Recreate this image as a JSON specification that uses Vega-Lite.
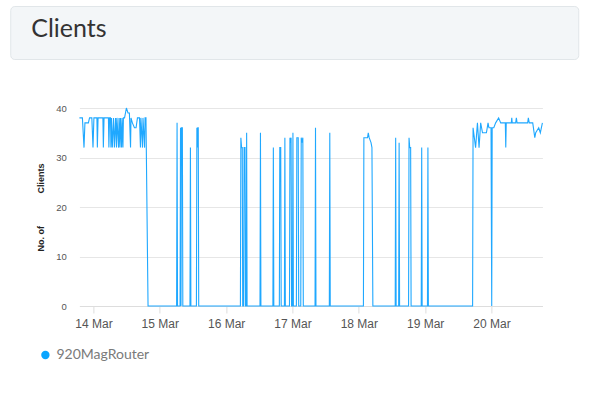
{
  "$schema": "https://vega.github.io/schema/vega-lite/v6.json",
  "background": "white",
  "padding": {"left": 9, "top": 5, "right": 15, "bottom": 5},
  "spacing": 43,
  "center": true,
  "config": {"font": "Liberation Sans"},
  "resolve": {"legend": {"color": "independent"}, "scale": {"color": "independent"}},
  "vconcat": [
    {
      "width": 568,
      "height": 53,
      "view": {"fill": "#f3f6f8", "stroke": "#e1e6e9", "cornerRadius": 4},
      "title": {"text": "Clients", "anchor": "start", "orient": "top", "offset": -56, "dx": 21, "baseline": "alphabetic", "font": "Lato", "fontSize": 25, "fontWeight": 400, "color": "#333333"},
      "data": {"values": [{"t": ""}]},
      "mark": {"type": "text"},
      "encoding": {"text": {"field": "t", "type": "nominal"}}
    },
    {
      "width": 498,
      "height": 198,
      "view": {"stroke": null},
      "data": {"values": [
        {"time": "2019-03-13T18:55", "clients": 38, "device": "920MagRouter"},
        {"time": "2019-03-13T20:00", "clients": 38, "device": "920MagRouter"},
        {"time": "2019-03-13T20:35", "clients": 32, "device": "920MagRouter"},
        {"time": "2019-03-13T20:55", "clients": 37, "device": "920MagRouter"},
        {"time": "2019-03-13T22:10", "clients": 37, "device": "920MagRouter"},
        {"time": "2019-03-13T22:35", "clients": 38, "device": "920MagRouter"},
        {"time": "2019-03-13T23:25", "clients": 38, "device": "920MagRouter"},
        {"time": "2019-03-13T23:50", "clients": 32, "device": "920MagRouter"},
        {"time": "2019-03-14T00:10", "clients": 38, "device": "920MagRouter"},
        {"time": "2019-03-14T01:15", "clients": 38, "device": "920MagRouter"},
        {"time": "2019-03-14T01:25", "clients": 32, "device": "920MagRouter"},
        {"time": "2019-03-14T01:40", "clients": 38, "device": "920MagRouter"},
        {"time": "2019-03-14T03:25", "clients": 38, "device": "920MagRouter"},
        {"time": "2019-03-14T03:35", "clients": 32, "device": "920MagRouter"},
        {"time": "2019-03-14T03:50", "clients": 38, "device": "920MagRouter"},
        {"time": "2019-03-14T05:25", "clients": 38, "device": "920MagRouter"},
        {"time": "2019-03-14T05:35", "clients": 32, "device": "920MagRouter"},
        {"time": "2019-03-14T05:50", "clients": 38, "device": "920MagRouter"},
        {"time": "2019-03-14T06:10", "clients": 38, "device": "920MagRouter"},
        {"time": "2019-03-14T06:20", "clients": 32, "device": "920MagRouter"},
        {"time": "2019-03-14T06:30", "clients": 38, "device": "920MagRouter"},
        {"time": "2019-03-14T06:50", "clients": 32, "device": "920MagRouter"},
        {"time": "2019-03-14T07:15", "clients": 38, "device": "920MagRouter"},
        {"time": "2019-03-14T07:35", "clients": 32, "device": "920MagRouter"},
        {"time": "2019-03-14T08:00", "clients": 38, "device": "920MagRouter"},
        {"time": "2019-03-14T08:20", "clients": 32, "device": "920MagRouter"},
        {"time": "2019-03-14T08:30", "clients": 38, "device": "920MagRouter"},
        {"time": "2019-03-14T09:05", "clients": 32, "device": "920MagRouter"},
        {"time": "2019-03-14T09:15", "clients": 38, "device": "920MagRouter"},
        {"time": "2019-03-14T09:35", "clients": 32, "device": "920MagRouter"},
        {"time": "2019-03-14T09:45", "clients": 38, "device": "920MagRouter"},
        {"time": "2019-03-14T10:10", "clients": 32, "device": "920MagRouter"},
        {"time": "2019-03-14T10:20", "clients": 38, "device": "920MagRouter"},
        {"time": "2019-03-14T10:40", "clients": 32, "device": "920MagRouter"},
        {"time": "2019-03-14T10:50", "clients": 38, "device": "920MagRouter"},
        {"time": "2019-03-14T11:15", "clients": 38, "device": "920MagRouter"},
        {"time": "2019-03-14T11:55", "clients": 40, "device": "920MagRouter"},
        {"time": "2019-03-14T12:30", "clients": 39, "device": "920MagRouter"},
        {"time": "2019-03-14T13:00", "clients": 39, "device": "920MagRouter"},
        {"time": "2019-03-14T13:25", "clients": 32, "device": "920MagRouter"},
        {"time": "2019-03-14T13:35", "clients": 38, "device": "920MagRouter"},
        {"time": "2019-03-14T14:05", "clients": 37, "device": "920MagRouter"},
        {"time": "2019-03-14T14:50", "clients": 36, "device": "920MagRouter"},
        {"time": "2019-03-14T15:25", "clients": 36, "device": "920MagRouter"},
        {"time": "2019-03-14T15:55", "clients": 38, "device": "920MagRouter"},
        {"time": "2019-03-14T16:40", "clients": 38, "device": "920MagRouter"},
        {"time": "2019-03-14T17:00", "clients": 32, "device": "920MagRouter"},
        {"time": "2019-03-14T17:10", "clients": 38, "device": "920MagRouter"},
        {"time": "2019-03-14T17:45", "clients": 32, "device": "920MagRouter"},
        {"time": "2019-03-14T17:55", "clients": 38, "device": "920MagRouter"},
        {"time": "2019-03-14T18:30", "clients": 32, "device": "920MagRouter"},
        {"time": "2019-03-14T18:40", "clients": 38, "device": "920MagRouter"},
        {"time": "2019-03-14T19:00", "clients": 38, "device": "920MagRouter"},
        {"time": "2019-03-14T19:45", "clients": 0, "device": "920MagRouter"},
        {"time": "2019-03-15T06:05", "clients": 0, "device": "920MagRouter"},
        {"time": "2019-03-15T06:15", "clients": 37, "device": "920MagRouter"},
        {"time": "2019-03-15T06:25", "clients": 0, "device": "920MagRouter"},
        {"time": "2019-03-15T07:20", "clients": 0, "device": "920MagRouter"},
        {"time": "2019-03-15T07:30", "clients": 36, "device": "920MagRouter"},
        {"time": "2019-03-15T07:40", "clients": 0, "device": "920MagRouter"},
        {"time": "2019-03-15T07:50", "clients": 36, "device": "920MagRouter"},
        {"time": "2019-03-15T08:10", "clients": 36, "device": "920MagRouter"},
        {"time": "2019-03-15T08:20", "clients": 0, "device": "920MagRouter"},
        {"time": "2019-03-15T10:55", "clients": 0, "device": "920MagRouter"},
        {"time": "2019-03-15T11:05", "clients": 32, "device": "920MagRouter"},
        {"time": "2019-03-15T11:15", "clients": 0, "device": "920MagRouter"},
        {"time": "2019-03-15T13:15", "clients": 0, "device": "920MagRouter"},
        {"time": "2019-03-15T13:25", "clients": 36, "device": "920MagRouter"},
        {"time": "2019-03-15T13:35", "clients": 32, "device": "920MagRouter"},
        {"time": "2019-03-15T13:45", "clients": 36, "device": "920MagRouter"},
        {"time": "2019-03-15T13:55", "clients": 36, "device": "920MagRouter"},
        {"time": "2019-03-15T14:05", "clients": 0, "device": "920MagRouter"},
        {"time": "2019-03-16T05:10", "clients": 0, "device": "920MagRouter"},
        {"time": "2019-03-16T05:20", "clients": 34, "device": "920MagRouter"},
        {"time": "2019-03-16T05:35", "clients": 32, "device": "920MagRouter"},
        {"time": "2019-03-16T05:50", "clients": 32, "device": "920MagRouter"},
        {"time": "2019-03-16T06:00", "clients": 0, "device": "920MagRouter"},
        {"time": "2019-03-16T06:20", "clients": 0, "device": "920MagRouter"},
        {"time": "2019-03-16T06:30", "clients": 32, "device": "920MagRouter"},
        {"time": "2019-03-16T06:50", "clients": 32, "device": "920MagRouter"},
        {"time": "2019-03-16T07:00", "clients": 0, "device": "920MagRouter"},
        {"time": "2019-03-16T07:15", "clients": 0, "device": "920MagRouter"},
        {"time": "2019-03-16T07:25", "clients": 35, "device": "920MagRouter"},
        {"time": "2019-03-16T07:35", "clients": 0, "device": "920MagRouter"},
        {"time": "2019-03-16T12:15", "clients": 0, "device": "920MagRouter"},
        {"time": "2019-03-16T12:25", "clients": 35, "device": "920MagRouter"},
        {"time": "2019-03-16T12:35", "clients": 0, "device": "920MagRouter"},
        {"time": "2019-03-16T16:55", "clients": 0, "device": "920MagRouter"},
        {"time": "2019-03-16T17:05", "clients": 32, "device": "920MagRouter"},
        {"time": "2019-03-16T17:15", "clients": 0, "device": "920MagRouter"},
        {"time": "2019-03-16T19:15", "clients": 0, "device": "920MagRouter"},
        {"time": "2019-03-16T19:25", "clients": 32, "device": "920MagRouter"},
        {"time": "2019-03-16T19:45", "clients": 32, "device": "920MagRouter"},
        {"time": "2019-03-16T19:55", "clients": 0, "device": "920MagRouter"},
        {"time": "2019-03-16T21:05", "clients": 0, "device": "920MagRouter"},
        {"time": "2019-03-16T21:15", "clients": 34, "device": "920MagRouter"},
        {"time": "2019-03-16T21:25", "clients": 0, "device": "920MagRouter"},
        {"time": "2019-03-16T22:55", "clients": 0, "device": "920MagRouter"},
        {"time": "2019-03-16T23:05", "clients": 34, "device": "920MagRouter"},
        {"time": "2019-03-16T23:15", "clients": 33, "device": "920MagRouter"},
        {"time": "2019-03-16T23:30", "clients": 34, "device": "920MagRouter"},
        {"time": "2019-03-16T23:40", "clients": 0, "device": "920MagRouter"},
        {"time": "2019-03-17T00:00", "clients": 0, "device": "920MagRouter"},
        {"time": "2019-03-17T00:10", "clients": 35, "device": "920MagRouter"},
        {"time": "2019-03-17T00:20", "clients": 0, "device": "920MagRouter"},
        {"time": "2019-03-17T01:25", "clients": 0, "device": "920MagRouter"},
        {"time": "2019-03-17T01:35", "clients": 34, "device": "920MagRouter"},
        {"time": "2019-03-17T02:05", "clients": 34, "device": "920MagRouter"},
        {"time": "2019-03-17T02:15", "clients": 0, "device": "920MagRouter"},
        {"time": "2019-03-17T03:00", "clients": 0, "device": "920MagRouter"},
        {"time": "2019-03-17T03:10", "clients": 34, "device": "920MagRouter"},
        {"time": "2019-03-17T03:25", "clients": 33, "device": "920MagRouter"},
        {"time": "2019-03-17T03:45", "clients": 34, "device": "920MagRouter"},
        {"time": "2019-03-17T03:55", "clients": 0, "device": "920MagRouter"},
        {"time": "2019-03-17T08:10", "clients": 0, "device": "920MagRouter"},
        {"time": "2019-03-17T08:20", "clients": 36, "device": "920MagRouter"},
        {"time": "2019-03-17T08:30", "clients": 0, "device": "920MagRouter"},
        {"time": "2019-03-17T13:20", "clients": 0, "device": "920MagRouter"},
        {"time": "2019-03-17T13:30", "clients": 35, "device": "920MagRouter"},
        {"time": "2019-03-17T13:40", "clients": 0, "device": "920MagRouter"},
        {"time": "2019-03-18T01:40", "clients": 0, "device": "920MagRouter"},
        {"time": "2019-03-18T01:50", "clients": 34, "device": "920MagRouter"},
        {"time": "2019-03-18T03:10", "clients": 34, "device": "920MagRouter"},
        {"time": "2019-03-18T03:25", "clients": 35, "device": "920MagRouter"},
        {"time": "2019-03-18T03:45", "clients": 34, "device": "920MagRouter"},
        {"time": "2019-03-18T04:25", "clients": 33, "device": "920MagRouter"},
        {"time": "2019-03-18T04:45", "clients": 32, "device": "920MagRouter"},
        {"time": "2019-03-18T05:05", "clients": 0, "device": "920MagRouter"},
        {"time": "2019-03-18T13:10", "clients": 0, "device": "920MagRouter"},
        {"time": "2019-03-18T13:20", "clients": 34, "device": "920MagRouter"},
        {"time": "2019-03-18T13:30", "clients": 0, "device": "920MagRouter"},
        {"time": "2019-03-18T14:25", "clients": 0, "device": "920MagRouter"},
        {"time": "2019-03-18T14:35", "clients": 33, "device": "920MagRouter"},
        {"time": "2019-03-18T14:45", "clients": 0, "device": "920MagRouter"},
        {"time": "2019-03-18T18:00", "clients": 0, "device": "920MagRouter"},
        {"time": "2019-03-18T18:10", "clients": 34, "device": "920MagRouter"},
        {"time": "2019-03-18T18:25", "clients": 32, "device": "920MagRouter"},
        {"time": "2019-03-18T18:45", "clients": 32, "device": "920MagRouter"},
        {"time": "2019-03-18T18:55", "clients": 0, "device": "920MagRouter"},
        {"time": "2019-03-18T22:35", "clients": 0, "device": "920MagRouter"},
        {"time": "2019-03-18T22:45", "clients": 32, "device": "920MagRouter"},
        {"time": "2019-03-18T22:55", "clients": 0, "device": "920MagRouter"},
        {"time": "2019-03-19T00:50", "clients": 0, "device": "920MagRouter"},
        {"time": "2019-03-19T01:00", "clients": 32, "device": "920MagRouter"},
        {"time": "2019-03-19T01:10", "clients": 0, "device": "920MagRouter"},
        {"time": "2019-03-19T17:10", "clients": 0, "device": "920MagRouter"},
        {"time": "2019-03-19T17:20", "clients": 36, "device": "920MagRouter"},
        {"time": "2019-03-19T18:15", "clients": 32, "device": "920MagRouter"},
        {"time": "2019-03-19T18:55", "clients": 37, "device": "920MagRouter"},
        {"time": "2019-03-19T19:30", "clients": 32, "device": "920MagRouter"},
        {"time": "2019-03-19T20:05", "clients": 37, "device": "920MagRouter"},
        {"time": "2019-03-19T20:45", "clients": 35, "device": "920MagRouter"},
        {"time": "2019-03-19T22:10", "clients": 35, "device": "920MagRouter"},
        {"time": "2019-03-19T22:45", "clients": 37, "device": "920MagRouter"},
        {"time": "2019-03-19T23:05", "clients": 36, "device": "920MagRouter"},
        {"time": "2019-03-19T23:50", "clients": 36, "device": "920MagRouter"},
        {"time": "2019-03-20T00:05", "clients": 0, "device": "920MagRouter"},
        {"time": "2019-03-20T00:15", "clients": 36, "device": "920MagRouter"},
        {"time": "2019-03-20T00:50", "clients": 36, "device": "920MagRouter"},
        {"time": "2019-03-20T01:30", "clients": 37, "device": "920MagRouter"},
        {"time": "2019-03-20T02:35", "clients": 38, "device": "920MagRouter"},
        {"time": "2019-03-20T03:20", "clients": 37, "device": "920MagRouter"},
        {"time": "2019-03-20T05:00", "clients": 37, "device": "920MagRouter"},
        {"time": "2019-03-20T05:10", "clients": 32, "device": "920MagRouter"},
        {"time": "2019-03-20T05:20", "clients": 37, "device": "920MagRouter"},
        {"time": "2019-03-20T07:10", "clients": 37, "device": "920MagRouter"},
        {"time": "2019-03-20T07:20", "clients": 38, "device": "920MagRouter"},
        {"time": "2019-03-20T07:30", "clients": 37, "device": "920MagRouter"},
        {"time": "2019-03-20T08:45", "clients": 37, "device": "920MagRouter"},
        {"time": "2019-03-20T09:00", "clients": 38, "device": "920MagRouter"},
        {"time": "2019-03-20T09:15", "clients": 37, "device": "920MagRouter"},
        {"time": "2019-03-20T13:05", "clients": 37, "device": "920MagRouter"},
        {"time": "2019-03-20T13:20", "clients": 38, "device": "920MagRouter"},
        {"time": "2019-03-20T13:40", "clients": 37, "device": "920MagRouter"},
        {"time": "2019-03-20T14:55", "clients": 37, "device": "920MagRouter"},
        {"time": "2019-03-20T15:40", "clients": 34, "device": "920MagRouter"},
        {"time": "2019-03-20T16:00", "clients": 35, "device": "920MagRouter"},
        {"time": "2019-03-20T17:05", "clients": 36, "device": "920MagRouter"},
        {"time": "2019-03-20T17:40", "clients": 35, "device": "920MagRouter"},
        {"time": "2019-03-20T18:25", "clients": 37, "device": "920MagRouter"}
      ]},
      "mark": {"type": "line", "strokeWidth": 1.1},
      "encoding": {
        "x": {
          "field": "time", "type": "temporal",
          "scale": {"nice": false, "range": [35, 498]},
          "axis": {"title": null, "format": "%d %b", "tickCount": {"interval": "day", "step": 1}, "grid": false, "domainColor": "#dddddd", "tickColor": "#dddddd", "tickSize": 7, "labelFont": "Liberation Sans", "labelFontSize": 12, "labelColor": "#555555", "labelPadding": 5, "labelFlush": false}
        },
        "y": {
          "field": "clients", "type": "quantitative",
          "scale": {"domain": [0, 40], "nice": false},
          "axis": {"title": "No. of\u00a0\u00a0\u00a0\u00a0\u00a0\u00a0\u00a0\u00a0\u00a0\u00a0\u00a0\u00a0\u00a0Clients", "offset": -35, "values": [0, 10, 20, 30, 40], "grid": true, "gridColor": "#e6e6e6", "domain": false, "ticks": false, "labelPadding": 13, "labelFont": "Liberation Sans", "labelFontSize": 9.5, "labelColor": "#555555", "titleFont": "Liberation Sans", "titleFontSize": 9, "titleFontWeight": "bold", "titleColor": "#222222", "titlePadding": 10}
        },
        "color": {
          "field": "device", "type": "nominal",
          "scale": {"range": ["#1fa8ff"]},
          "legend": {"title": null, "orient": "none", "legendX": -35, "legendY": 211, "padding": 29, "symbolType": "circle", "symbolSize": 70, "symbolFillColor": "#0aa5ff", "symbolStrokeWidth": 0, "labelFont": "Lato", "labelFontSize": 14, "labelColor": "#7a7a7a"}
        }
      }
    }
  ]
}
